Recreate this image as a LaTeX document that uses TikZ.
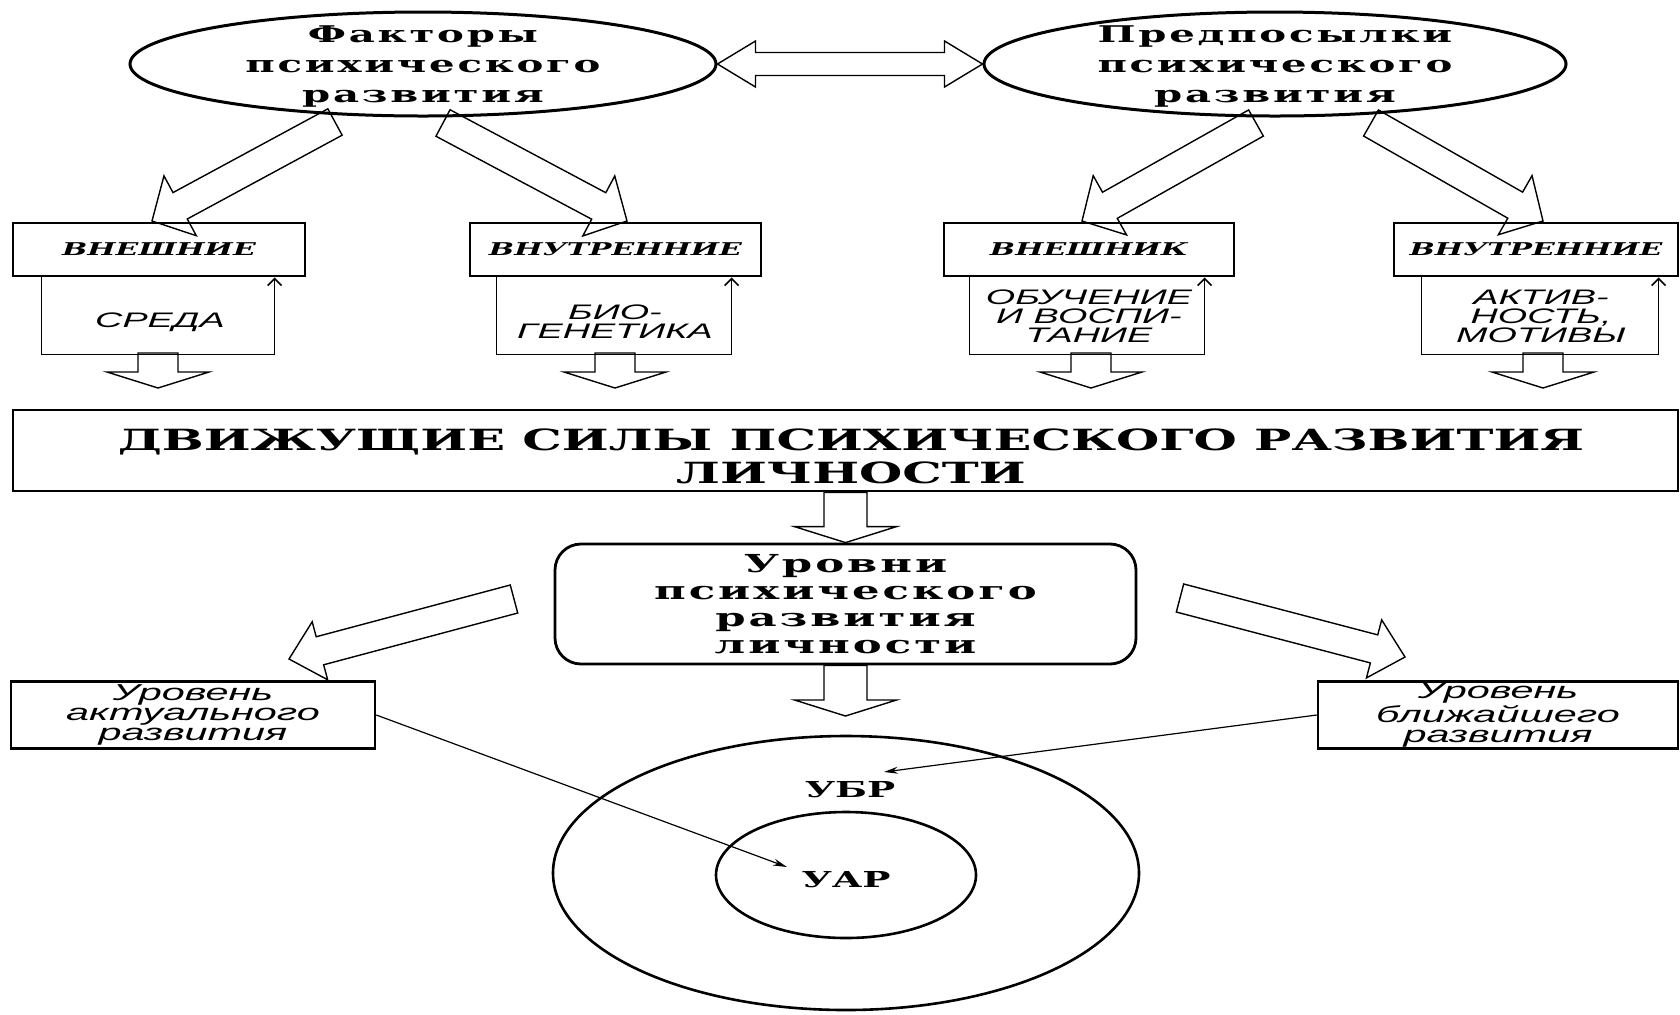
\documentclass[tikz,border=0pt]{standalone}
\usepackage{fontspec}
\usepackage{tikz}
\usetikzlibrary{shapes.geometric,arrows.meta,calc}

\newfontfamily\srf{DejaVu Serif}[FakeStretch=1.7]
\newfontfamily\wsrf{DejaVu Serif}[FakeStretch=1.75,LetterSpace=12]
\newfontfamily\sns{Liberation Sans}[FakeStretch=1.8]

% hollow block arrow: tail, tip, shaft half width, head half width, head length
\newcommand\hollowarrow[5]{%
  \coordinate (ha) at ($(#2)!#5!(#1)$);
  \draw[blk] ($(#1)!#3!90:(#2)$) -- ($(ha)!#3!90:(#2)$) -- ($(ha)!#4!90:(#2)$) -- (#2)
    -- ($(ha)!#4!-90:(#2)$) -- ($(ha)!#3!-90:(#2)$) -- ($(#1)!#3!-90:(#2)$) -- cycle;
}
% the same with a head at both ends
\newcommand\hollowdarrow[5]{%
  \coordinate (ha) at ($(#1)!#5!(#2)$);
  \coordinate (hb) at ($(#2)!#5!(#1)$);
  \draw[blk] (#1) -- ($(ha)!#4!90:(#2)$) -- ($(ha)!#3!90:(#2)$) -- ($(hb)!#3!-90:(#1)$)
    -- ($(hb)!#4!-90:(#1)$) -- (#2) -- ($(hb)!#4!90:(#1)$) -- ($(hb)!#3!90:(#1)$)
    -- ($(ha)!#3!-90:(#2)$) -- ($(ha)!#4!-90:(#2)$) -- cycle;
}

\begin{document}
\begin{tikzpicture}[x=0.5pt, y=-0.5pt,
  oval/.style={ellipse, draw, line width=1.5pt, inner sep=0pt},
  ttl/.style={font=\wsrf\bfseries\fontsize{11.5}{15}\selectfont, align=center, inner sep=0pt},
  kind/.style={draw, line width=1.4pt, inner sep=0pt, font=\srf\bfseries\itshape\fontsize{8.8}{11}\selectfont},
  src/.style={font=\sns\itshape\fontsize{10.5}{9.5}\selectfont, align=center, inner sep=0pt},
  sub/.style={line width=0.8pt},
  blk/.style={line width=0.7pt, line join=miter},
  drive/.style={draw, line width=1.4pt, inner sep=0pt},
  dtxt/.style={inner sep=0pt, align=center, font=\srf\bfseries\fontsize{14.6}{16.5}\selectfont},
  rbox/.style={draw, line width=1.4pt, rounded corners=13pt, inner sep=0pt, align=center, font=\wsrf\bfseries\fontsize{12.4}{13.5}\selectfont},
  lvl/.style={draw, line width=1.3pt, inner sep=0pt, align=center, font=\sns\itshape\fontsize{11.5}{10}\selectfont},
  ring/.style={ellipse, draw, line width=1.3pt, inner sep=0pt},
  rlab/.style={inner sep=0pt, font=\srf\bfseries\fontsize{11}{13}\selectfont},
  link/.style={line width=0.6pt, -{Stealth[length=7pt,width=3.5pt]}}
]
\useasboundingbox (0,0) rectangle (1680,1014);

% top ovals
\node[oval, minimum width=293pt, minimum height=52pt] (fak) at (423,64) {};
\node[ttl] (fakt) at ($(fak)+(0,2)$) {Факторы\\психического\\развития};
\node[oval, minimum width=291pt, minimum height=52pt] (pre) at (1275,64) {};
\node[ttl] (pret) at ($(pre)+(0,2)$) {Предпосылки\\психического\\развития};
\hollowdarrow{fak.east}{pre.west}{5.75pt}{11.5pt}{19pt}

% outer / inner boxes
\node[kind, minimum width=146pt, minimum height=26.5pt] (b1) at (159,249.5) {ВНЕШНИЕ};
\node[kind, minimum width=145.5pt, minimum height=26.5pt] (b2) at (615.5,249.5) {ВНУТРЕННИЕ};
\node[kind, minimum width=145pt, minimum height=26.5pt] (b3) at (1089,249.5) {ВНЕШНИК};
\node[kind, minimum width=142pt, minimum height=26.5pt] (b4) at (1536,249.5) {ВНУТРЕННИЕ};

\coordinate (t1) at (335,122);
\coordinate (t2) at (443,123);
\coordinate (t3) at (1256,123);
\coordinate (t4) at (1371,123);
\coordinate (h1) at (152,221);
\coordinate (h2) at (627,221);
\coordinate (h3) at (1082,221);
\coordinate (h4) at (1543,221);
\hollowarrow{t1}{h1}{7.5pt}{17pt}{16pt}
\hollowarrow{t2}{h2}{7.5pt}{17pt}{16pt}
\hollowarrow{t3}{h3}{7.5pt}{17pt}{16pt}
\hollowarrow{t4}{h4}{7.5pt}{17pt}{16pt}

% open boxes under them
\draw[sub, -{Straight Barb[length=3.5pt,width=7pt]}] ($(b1.south west)+(30,0)$) -- ++(0,77) -- ++(233,0) -- ++(0,-77);
\draw[sub, -{Straight Barb[length=3.5pt,width=7pt]}] ($(b2.south west)+(28,0)$) -- ++(0,77) -- ++(235,0) -- ++(0,-77);
\draw[sub, -{Straight Barb[length=3.5pt,width=7pt]}] ($(b3.south west)+(27,0)$) -- ++(0,77) -- ++(235,0) -- ++(0,-77);
\draw[sub, -{Straight Barb[length=3.5pt,width=7pt]}] ($(b4.south west)+(29,0)$) -- ++(0,77) -- ++(237,0) -- ++(0,-77);

\node[src] (sr) at (160,322) {СРЕДА};
\node[src] (bg) at (615,322) {БИО-\\ГЕНЕТИКА};
\node[src] (ov) at (1089,316) {ОБУЧЕНИЕ\\И ВОСПИ-\\ТАНИЕ};
\node[src] (ak) at (1541,316) {АКТИВ-\\НОСТЬ,\\МОТИВЫ};

\coordinate (s1) at (158,353);
\coordinate (s2) at (615,353);
\coordinate (s3) at (1091,353);
\coordinate (s4) at (1543,353);
\coordinate (d1) at (158,388);
\coordinate (d2) at (615,388);
\coordinate (d3) at (1091,388);
\coordinate (d4) at (1543,388);
\hollowarrow{s1}{d1}{10pt}{25.5pt}{8pt}
\hollowarrow{s2}{d2}{10pt}{25.5pt}{8pt}
\hollowarrow{s3}{d3}{10pt}{25.5pt}{8pt}
\hollowarrow{s4}{d4}{10pt}{25.5pt}{8pt}

% driving forces
\node[drive, minimum width=832.5pt, minimum height=40.5pt] (dv) at (845.5,450.5) {};
\node[dtxt] (dvt) at (851,456) {ДВИЖУЩИЕ СИЛЫ ПСИХИЧЕСКОГО РАЗВИТИЯ\\ЛИЧНОСТИ};
\node[rbox, minimum width=290.5pt, minimum height=60pt] (urv) at (845.5,604) {Уровни\\психического\\развития\\личности};
\hollowarrow{dv.south}{urv.north}{10.75pt}{25.5pt}{8pt}

\coordinate (d5) at (845.5,716);
\hollowarrow{urv.south}{d5}{10.75pt}{25.5pt}{8pt}

\coordinate (e1) at (514,599);
\coordinate (e2) at (289,659);
\coordinate (f1) at (1180,598);
\coordinate (f2) at (1405,657);
\hollowarrow{e1}{e2}{7.25pt}{15pt}{16pt}
\hollowarrow{f1}{f2}{7.25pt}{15pt}{16pt}

% levels
\node[lvl, minimum width=182pt, minimum height=33.5pt] (lar) at (193,715) {Уровень\\актуального\\развития};
\node[lvl, minimum width=180pt, minimum height=33.5pt] (lbr) at (1498,715) {Уровень\\ближайшего\\развития};

\node[ring, minimum width=293pt, minimum height=137pt] (ubr) at (846,873) {};
\node[ring, minimum width=130pt, minimum height=63pt] (uar) at (846,875) {};
\node[rlab] (ubrt) at (850,790) {УБР};
\node[rlab] (uart) at (846,880) {УАР};

\coordinate (pa) at (787,867);
\coordinate (pb) at (884,772);
\draw[link] (lar.east) -- (pa);
\draw[link] (lbr.west) -- (pb);
\end{tikzpicture}
\end{document}
